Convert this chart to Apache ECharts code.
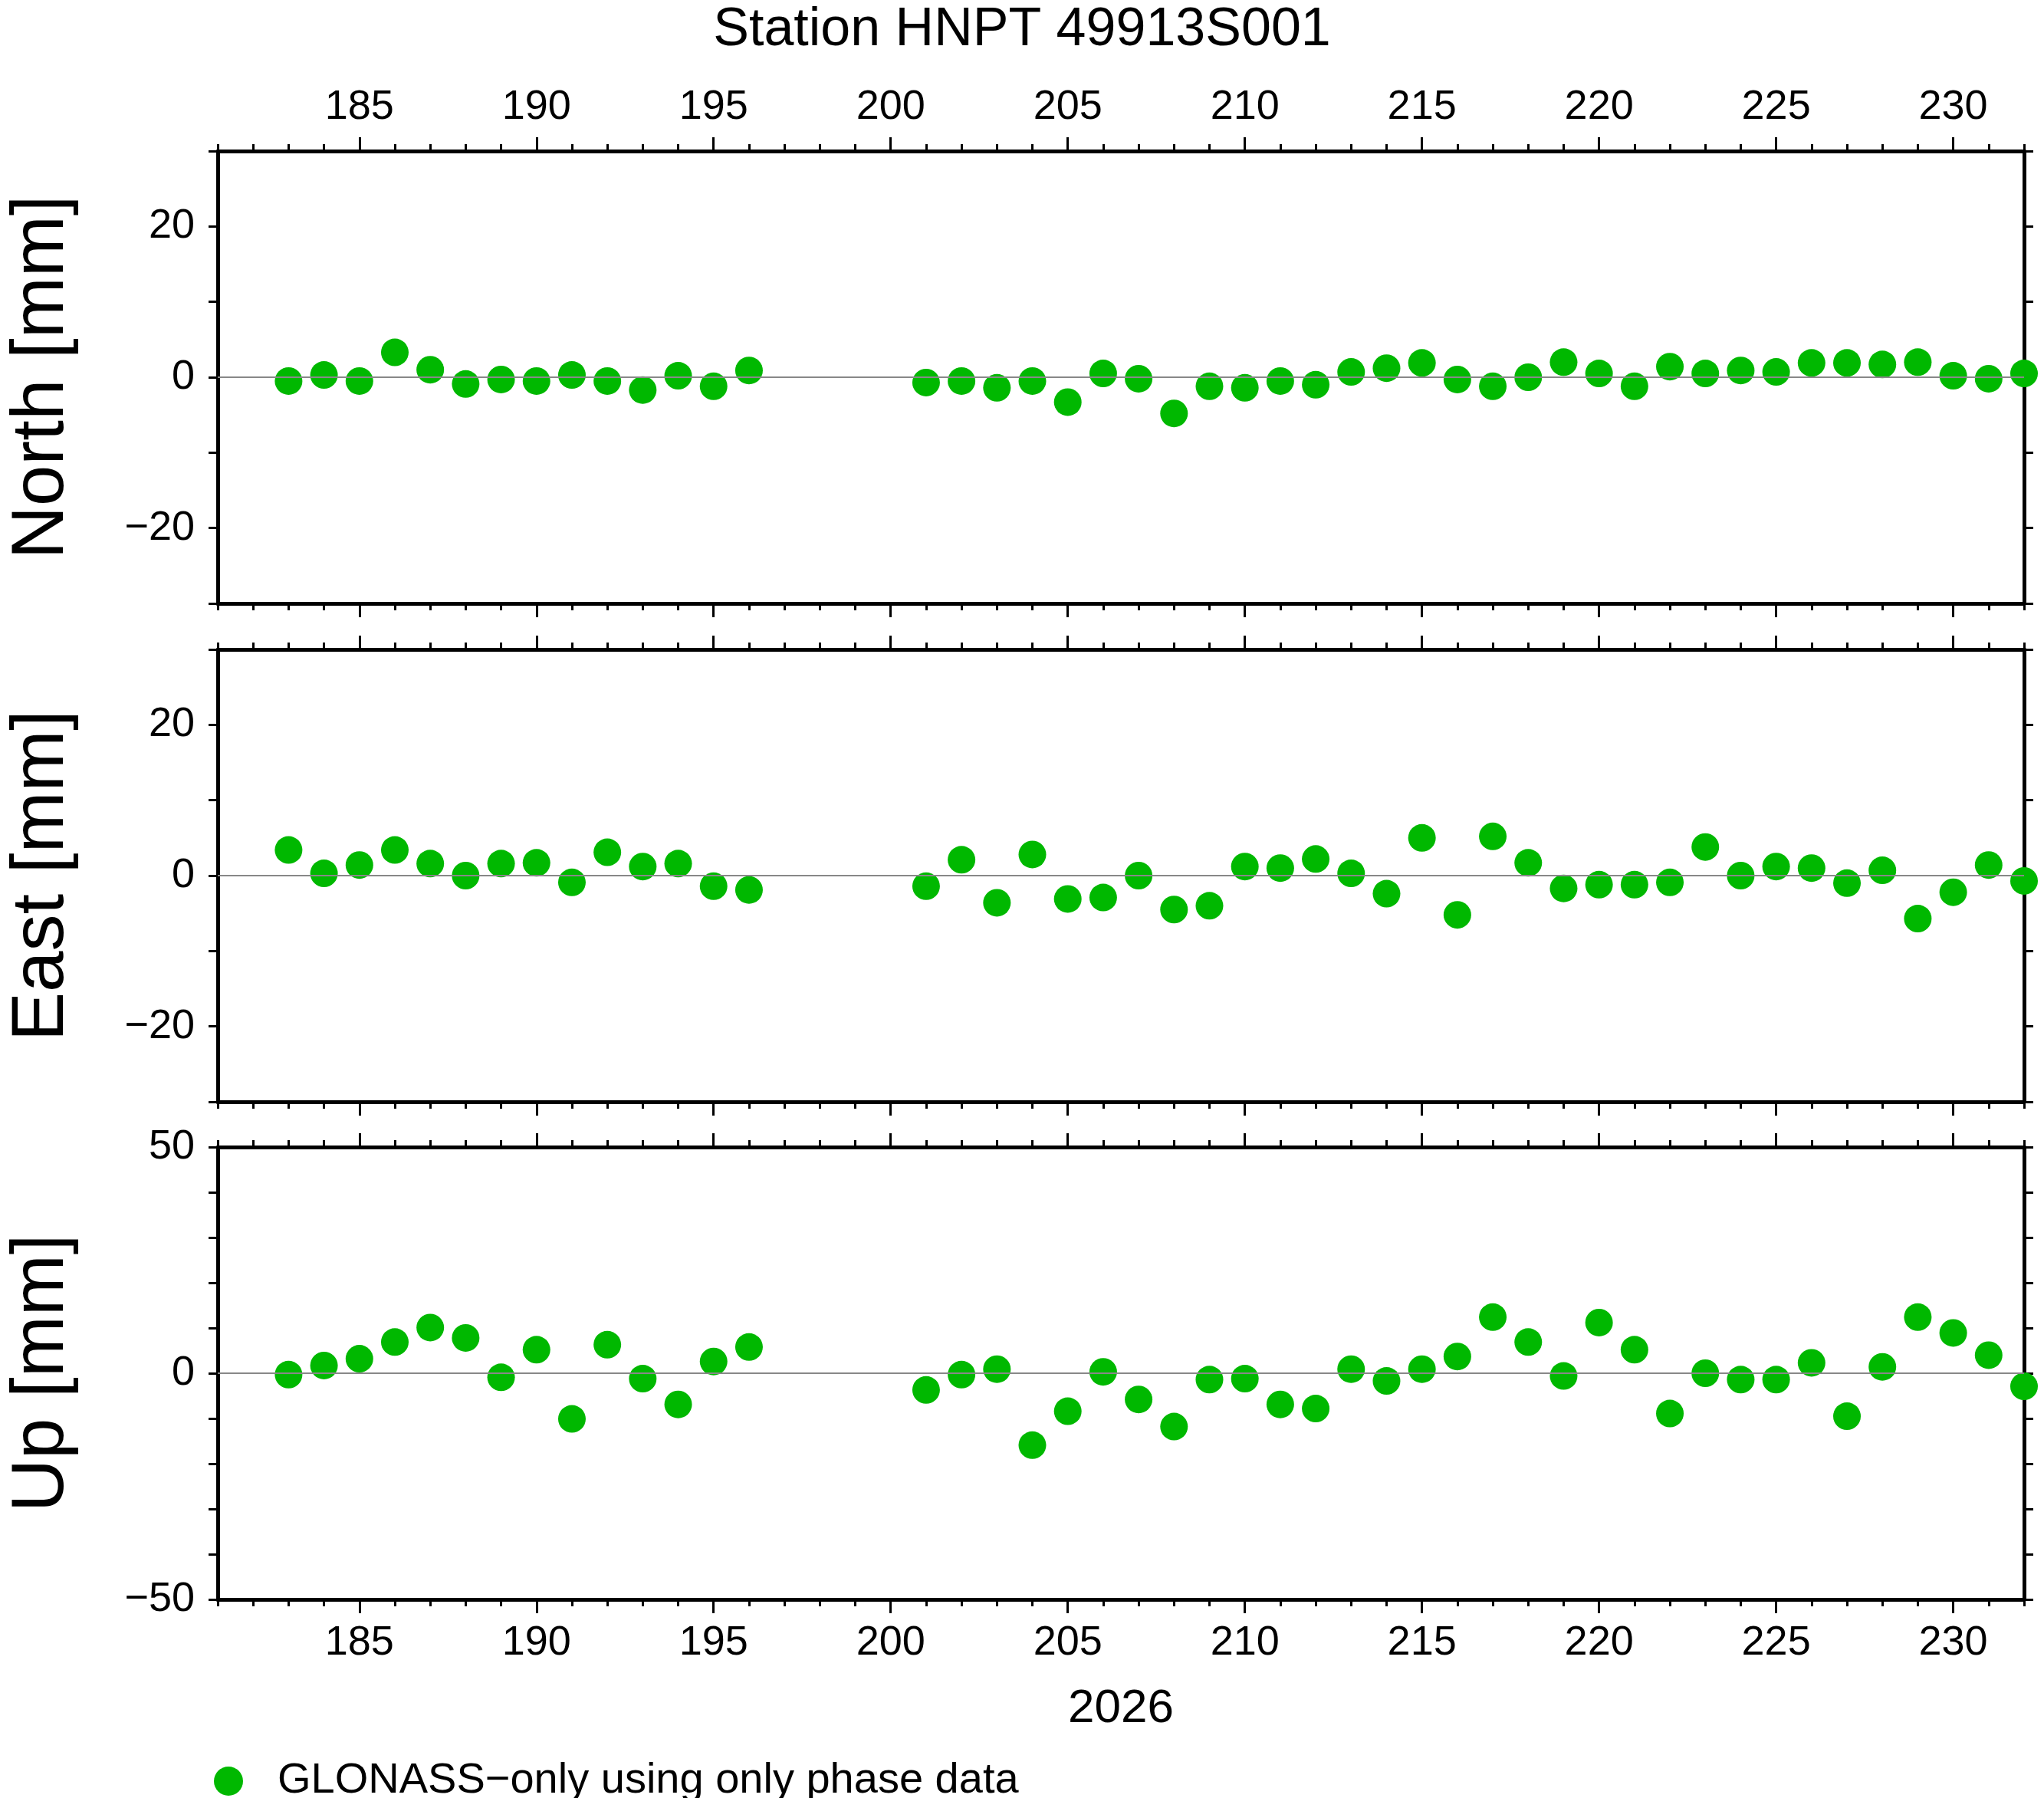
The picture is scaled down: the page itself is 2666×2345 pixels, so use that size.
<!DOCTYPE html>
<html><head><meta charset="utf-8">
<script src="https://cdn.jsdelivr.net/npm/echarts@6/dist/echarts.min.js"></script>
<style>html,body{margin:0;background:#fff}#c{width:2666px;height:2345px}</style>
</head><body><div id="c"></div>
<script>
var chart = echarts.init(document.getElementById('c'));

const days = [183,184,185,186,187,188,189,190,191,192,193,194,195,196,
  201,202,203,204,205,206,207,208,209,210,211,212,213,214,215,216,217,218,219,220,
  221,222,223,224,225,226,227,228,229,230,231,232];
const north = [-0.5,0.3,-0.5,3.3,1,-0.9,-0.3,-0.5,0.3,-0.5,-1.7,0.2,-1.2,0.9,
  -0.7,-0.5,-1.4,-0.5,-3.3,0.5,-0.2,-4.8,-1.2,-1.4,-0.5,-1,0.7,1.2,1.9,-0.3,-1.2,0,2,0.5,
  -1.2,1.4,0.5,0.9,0.7,1.9,1.9,1.7,2,0.2,-0.2,0.5];
const east = [3.4,0.3,1.4,3.4,1.6,0,1.6,1.7,-0.9,3.1,1.2,1.6,-1.4,-1.9,
  -1.4,2.1,-3.6,2.8,-3.1,-2.9,0,-4.5,-4,1.2,1,2.2,0.3,-2.4,5,-5.2,5.2,1.7,-1.7,-1.2,
  -1.2,-0.9,3.8,0,1.2,1,-1,0.7,-5.7,-2.2,1.4,-0.7];
const up = [-0.3,1.7,3.2,6.9,10.1,7.8,-0.9,5.2,-10.1,6.3,-1.2,-6.9,2.6,5.8,
  -3.7,-0.3,0.9,-15.9,-8.4,0.3,-5.8,-11.8,-1.4,-1.2,-6.9,-7.8,0.9,-1.7,0.9,3.7,12.4,6.9,-0.6,11.2,
  5.2,-8.9,0,-1.4,-1.4,2.3,-9.5,1.4,12.4,8.9,4,-2.9];
const majorTicks = [185,190,195,200,205,210,215,220,225,230];
const minorTicks = [];
for (let d = 181; d <= 232; d++) minorTicks.push(d);

const names = ['North [mm]', 'East [mm]', 'Up [mm]'];
const ranges = [[-30,30],[-30,30],[-50,50]];
const values = [north, east, up];
const tops = [197, 847, 1496];
const font = 'Liberation Sans';
const color = '#00b800';

const grids = [], xAxes = [], yAxes = [], series = [];
for (let g = 0; g < 3; g++) {
  grids.push({left: 277, right: 26, top: tops[g], height: 590});
  ['bottom','top'].forEach(pos => {
    const showLab = (pos === 'top' && g === 0) || (pos === 'bottom' && g === 2);
    xAxes.push({
      gridIndex: g, type: 'value', position: pos, min: 181, max: 232,
      axisLine: {show: true, onZero: false, lineStyle: {color: '#000', width: 5}},
      axisTick: {show: true, length: 18, customValues: majorTicks, lineStyle: {color: '#000', width: 3}},
      axisLabel: {show: showLab, customValues: majorTicks, fontSize: 54, fontFamily: font, color: '#000', margin: 30},
      splitLine: {show: false},
      name: (pos === 'bottom' && g === 2) ? '2026' : '',
      nameLocation: 'middle', nameGap: 112,
      nameTextStyle: {fontSize: 62, fontFamily: font, color: '#000'}
    });
    xAxes.push({
      gridIndex: g, type: 'value', position: pos, min: 181, max: 232,
      axisLine: {show: false, onZero: false},
      axisTick: {show: true, length: 9, customValues: minorTicks, lineStyle: {color: '#000', width: 3}},
      axisLabel: {show: false}, splitLine: {show: false}
    });
  });
  ['left','right'].forEach(pos => {
    yAxes.push({
      gridIndex: g, type: 'value', position: pos, min: ranges[g][0], max: ranges[g][1], interval: 10,
      axisLine: {show: true, onZero: false, lineStyle: {color: '#000', width: 5}},
      axisTick: {show: true, length: 12, lineStyle: {color: '#000', width: 3}},
      axisLabel: {show: pos === 'left', fontSize: 54, fontFamily: font, color: '#000', margin: 30,
        formatter: v => ((g < 2 && v % 20 === 0 && Math.abs(v) < 30) || (g === 2 && v % 50 === 0)) ? String(v).replace('-', '\u2212') : ''},
      splitLine: {show: false},
      name: pos === 'left' ? names[g] : '', nameLocation: 'middle', nameGap: 180,
      nameTextStyle: {fontSize: 96, fontFamily: font, color: '#000'}
    });
  });
  series.push({
    name: 'GLONASS\u2212only using only phase data',
    type: 'scatter', xAxisIndex: g * 4, yAxisIndex: g * 2, symbolSize: 36,
    itemStyle: {color: color, opacity: 1},
    data: days.map((d, i) => [d, values[g][i]]),
    markLine: {silent: true, symbol: 'none', label: {show: false},
      lineStyle: {color: '#888', width: 2, type: 'solid'}, data: [{yAxis: 0}]},
    z: 3
  });
}

chart.setOption({
  animation: false,
  backgroundColor: '#fff',
  title: {text: 'Station HNPT 49913S001', left: 'center', top: 0,
    textStyle: {fontSize: 70, fontWeight: 'normal', fontFamily: font, color: '#000'}},
  legend: {data: [series[0].name], left: 274, top: 2290, itemWidth: 38, itemHeight: 38, icon: 'circle',
    textStyle: {fontSize: 56, fontFamily: font, color: '#000', padding: [0, 0, 0, 40]}},
  grid: grids, xAxis: xAxes, yAxis: yAxes, series: series
});
</script></body></html>
